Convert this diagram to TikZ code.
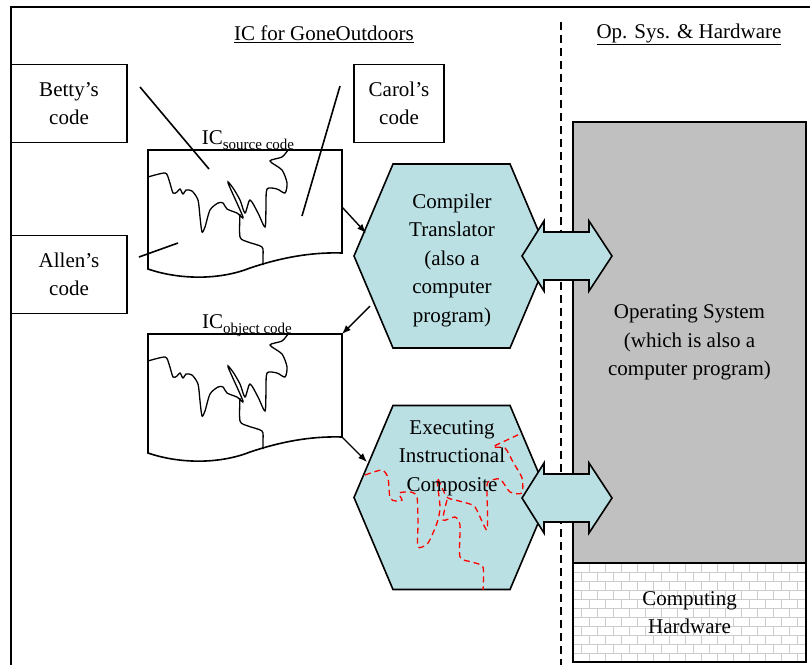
\documentclass[tikz,border=0pt]{standalone}
\usepackage{fontspec}
\setmainfont{Liberation Serif}
\usepackage{tikz}
\usetikzlibrary{arrows.meta, positioning}

\definecolor{hexblue}{RGB}{187,224,227}
\definecolor{osgray}{RGB}{192,192,192}
\newcommand{\diagfont}{\fontsize{21}{28.5}\selectfont}
\newcommand{\subfont}{\fontsize{15}{15}\selectfont}

\tikzset{
  codebox/.style={draw, minimum width=116pt, minimum height=78pt, align=center, inner sep=0pt},
  hexa/.style={draw, fill=hexblue, line join=miter},
  sheet/.style={draw, fill=white},
  squiggle/.style={line width=1.3pt},
  reddash/.style={red, dash pattern=on 6pt off 4pt, line width=1.3pt},
  feed/.style={-{Latex[length=9pt,width=7pt]}, line width=1.4pt},
  brick/.style={gray!40, line width=1pt},
}

% hexagon centred at height #1
\newcommand{\hexat}[1]{\filldraw[hexa] (354,#1) -- (393,{#1-92}) -- (510,{#1-92}) -- (549,#1)
  -- (510,{#1+92}) -- (393,{#1+92}) -- cycle;}
% two-headed arrow centred at height #1
\newcommand{\ioarrow}[1]{\filldraw[hexa] (522,#1) -- (544,{#1-35}) -- (544,{#1-24}) -- (589,{#1-24})
  -- (589,{#1-35}) -- (612,#1) -- (589,{#1+35}) -- (589,{#1+24}) -- (544,{#1+24}) -- (544,{#1+35}) -- cycle;}
% code sheet shifted down by #1
\newcommand{\codesheet}[1]{
  \begin{scope}[shift={(0,#1)}]
    \filldraw[sheet] (148,150) -- (342,150) -- (342,253) .. controls (310,252) and (280,258) .. (250,268)
      .. controls (220,280) and (180,280) .. (148,269) -- cycle;
    \draw[squiggle] plot[smooth, tension=0.45] coordinates {(148,177) (165,173) (169,180) (173,193)
      (177,192) (180,189) (183,194) (186,190) (192,191) (198,200) (200,217) (202,232) (205,227)
      (210,210) (218,203) (223,203) (227,209) (237,213) (243,217) (228,183) (233,188) (240,200)
      (245,213) (250,200) (258,213) (265,227) (266,207) (267,189) (277,189) (285,193) (287,183)
      (282,170) (270,161) (282,157) (288,150)};
    \draw[squiggle] plot[smooth, tension=0.45] coordinates {(240,214) (240,237) (248,242) (262,247)
      (263,257) (263,265)};
  \end{scope}}

\begin{document}
\begin{tikzpicture}[x=1pt, y=-1pt, font=\diagfont, line width=1.6pt]
  \useasboundingbox (0,0) rectangle (810,665);

  % frame and divider
  \draw[line width=2.2pt] (11,665) -- (11,7) -- (810,7);
  \draw[line width=2pt, dash pattern=on 8pt off 5pt] (561,22) -- (561,665);

  \node (ictitle) at (324,34) {\underline{IC for GoneOutdoors}};
  \node (ostitle) at (689,34) {\underline{Op. Sys. \& Hardware}};

  % authors
  \node[codebox] (betty) at (69,103.5) {Betty’s\\code};
  \node[codebox, minimum width=90pt] (carol) at (399,103.5) {Carol’s\\code};
  \node[codebox] (allen) at (69,274.5) {Allen’s\\code};

  % source and object code
  \codesheet{0}
  \codesheet{184}
  \node[anchor=base] (srclabel) at (248,144) {IC\raisebox{-5pt}{\subfont source code}};
  \node[anchor=base] (objlabel) at (247,328) {IC\raisebox{-5pt}{\subfont object code}};

  \coordinate (bettyfrom) at (140,87);  \coordinate (bettyto) at (209,169);
  \coordinate (carolfrom) at (340,86);  \coordinate (carolto) at (302,216);
  \coordinate (allenfrom) at (139,257); \coordinate (allento) at (178,243);
  \draw (bettyfrom) -- (bettyto);
  \draw (carolfrom) -- (carolto);
  \draw (allenfrom) -- (allento);

  % OS and hardware
  \node[draw, fill=osgray, minimum width=233pt, minimum height=441pt, align=center] (os)
    at (689.5,342.5) {Operating System\\(which is also a\\computer program)};
  \begin{scope}
    \clip (573,563) rectangle (806,662);
    \fill[white] (573,563) rectangle (806,662);
    \foreach \r in {0,...,10} {
      \draw[brick] (573,{563+9*\r}) -- (806,{563+9*\r});
      \pgfmathsetmacro{\off}{mod(\r,2)*8}
      \foreach \c in {0,...,15}
        \draw[brick] ({573+\off+16*\c},{563+9*\r}) -- ++(0,9);
    }
  \end{scope}
  \node[draw, minimum width=233pt, minimum height=99pt, align=center] (hw)
    at (689.5,612.5) {Computing\\Hardware};

  % compiler and executing composite
  \hexat{256}
  \hexat{497.5}
  \node[align=center] (comp) at (452,260) {Compiler\\Translator\\(also a\\computer\\program)};
  \draw[reddash] plot[smooth, tension=0.4] coordinates {(365,475) (382,470) (388,478) (390,498)
    (396,501) (402,500) (399,493) (411,492) (417,497) (418,523) (418,547) (428,543) (437,523)
    (440,507) (437,478) (443,490) (448,498) (463,502) (475,507) (487,530) (487,493) (488,482)
    (500,479) (510,492) (522,493) (522,478) (513,462) (505,448) (493,447) (507,440) (522,433)};
  \draw[reddash] plot[smooth, tension=0.4] coordinates {(447,500) (443,520) (455,517) (460,525)
    (460,557) (472,562) (483,567) (483,590)};
  \node[align=center] (exec) at (452,458) {Executing\\Instructional\\Composite};

  \ioarrow{256}
  \ioarrow{498}

  \coordinate (srcout) at (342,207);  \coordinate (compin) at (366,233);
  \coordinate (compout) at (370,306); \coordinate (objin) at (342,334);
  \coordinate (objout) at (342,437);  \coordinate (execin) at (367,462);
  \draw[feed] (srcout) -- (compin);
  \draw[feed] (compout) -- (objin);
  \draw[feed] (objout) -- (execin);
\end{tikzpicture}
\end{document}
